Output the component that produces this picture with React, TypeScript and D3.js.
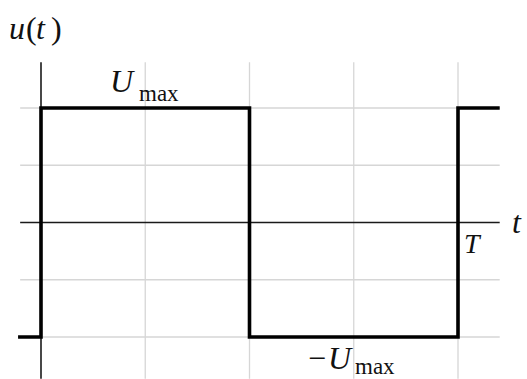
import React from "react";
import * as d3 from "d3";

// Square wave u(t): one full period T, switching between +Umax and -Umax
const waveTimes = [-0.055, 0, 0.5, 1, 1.1]; // in units of T
const waveValues = [-1, 1, -1, 1, 1]; // in units of Umax (step-after)

// Light grid: quarter periods and half amplitudes
const gridTimes = [0, 0.25, 0.5, 0.75, 1];
const gridValues = [-1, -0.5, 0.5, 1];

const W = 527;
const H = 379;

const serif = "Liberation Serif, Times New Roman, Times, DejaVu Serif, serif";

export default function App() {
  const x = d3.scaleLinear().domain([0, 1]).range([41, 458]);
  const y = d3.scaleLinear().domain([-1, 1]).range([337, 108]);

  const tMin = -0.05;
  const tMax = 1.1;
  const uMin = -1.365;
  const uMax = 1.4;

  const wave = d3
    .line<number>()
    .x((_, i) => x(waveTimes[i]))
    .y((d) => y(d))
    .curve(d3.curveStepAfter)(waveValues);

  const txt = { fontFamily: serif, fill: "#111" } as React.CSSProperties;
  const it = { ...txt, fontStyle: "italic" } as React.CSSProperties;

  return (
    <svg
      width={W}
      height={H}
      style={{ position: "absolute", left: 0, top: 0, display: "block", background: "#fff" }}
    >
      {/* grid */}
      <g stroke="#d6d6d6" strokeWidth={1.3}>
        {gridTimes.slice(1).map((t) => (
          <line key={"gx" + t} x1={x(t)} x2={x(t)} y1={y(uMax)} y2={y(uMin)} />
        ))}
        {gridValues.map((v) => (
          <line key={"gy" + v} x1={x(tMin)} x2={x(tMax)} y1={y(v)} y2={y(v)} />
        ))}
      </g>

      {/* axes */}
      <g stroke="#1a1a1a" strokeWidth={1.6}>
        <line x1={x(tMin)} x2={x(tMax)} y1={y(0)} y2={y(0)} />
        <line x1={x(0)} x2={x(0)} y1={y(uMax)} y2={y(uMin)} />
      </g>

      {/* signal */}
      <path d={wave ?? ""} fill="none" stroke="#000" strokeWidth={3.6} strokeLinejoin="miter" />

      {/* labels */}
      <g>
        {/* u(t), spaced like typeset math */}
        <text x={9} y={39} style={{ ...it, fontSize: 32 }}>u</text>
        <text x={26} y={39} style={{ ...txt, fontSize: 32 }}>(</text>
        <text x={36} y={39} style={{ ...it, fontSize: 32 }}>t</text>
        <text x={51} y={39} style={{ ...txt, fontSize: 32 }}>)</text>

        <text x={110} y={92} style={{ ...it, fontSize: 32 }}>U</text>
        <text x={139} y={101} style={{ ...txt, fontSize: 23 }}>max</text>

        <text x={308} y={369} style={{ ...txt, fontSize: 32 }}>−</text>
        <text x={328} y={369} style={{ ...it, fontSize: 32 }}>U</text>
        <text x={355} y={374} style={{ ...txt, fontSize: 23 }}>max</text>

        <text x={512} y={233} style={{ ...it, fontSize: 32 }}>t</text>
        <text x={464} y={253} style={{ ...it, fontSize: 28 }}>T</text>
      </g>
    </svg>
  );
}
